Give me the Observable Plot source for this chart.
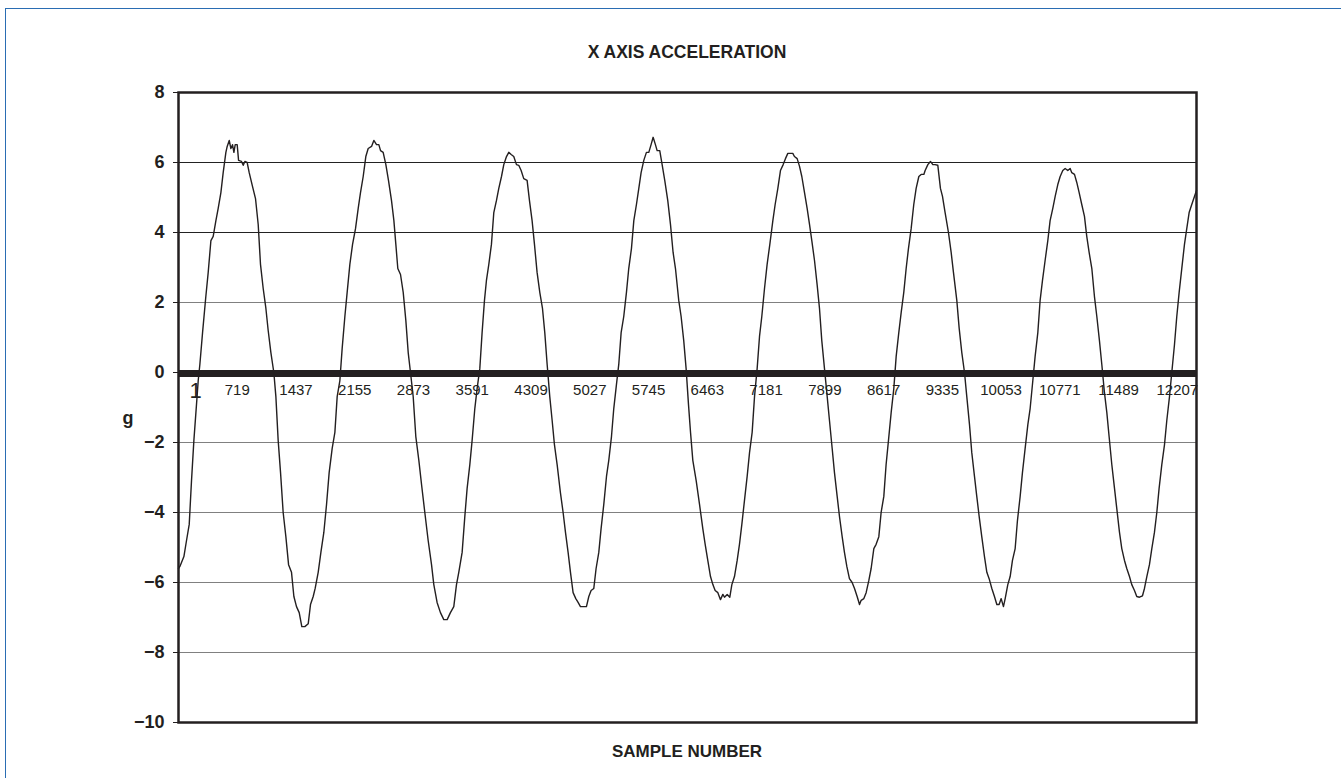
<!DOCTYPE html>
<html>
<head>
<meta charset="utf-8">
<script src="https://cdn.jsdelivr.net/npm/d3@7"></script>
<script src="https://cdn.jsdelivr.net/npm/@observablehq/plot@0.6"></script>
<style>
  body { margin: 0; background: #fff; font-family: "Liberation Sans", Arial, sans-serif; }
  #page { position: relative; width: 1341px; height: 778px; overflow: hidden; background: #fff; }
  #border { position: absolute; left: 5px; top: 8px; width: 1400px; height: 800px; border: 1.5px solid #2a6db3; box-sizing: border-box; }
  #title { position: absolute; top: 42px; left: 178px; width: 1018px; height: 20px; line-height: 20px; text-align: center; font-weight: bold; font-size: 17.5px; color: #231f20; }
  #xlabel { position: absolute; top: 742px; left: 178px; width: 1018px; height: 20px; line-height: 20px; text-align: center; font-weight: bold; font-size: 17px; color: #231f20; }
  #chart { position: absolute; top: 70px; left: 0; }
</style>
</head>
<body>
<div id="page">
  <div id="border"></div>
  <div id="title"></div>
  <div id="chart"></div>
  <div id="xlabel"></div>
</div>
<script>
const chartTitle = "X AXIS ACCELERATION";
const xAxisTitle = "SAMPLE NUMBER";
const yAxisTitle = "g";

// category tick labels shown along the zero line
const xTickLabels = [1, 719, 1437, 2155, 2873, 3591, 4309, 5027, 5745, 6463, 7181, 7899, 8617, 9335, 10053, 10771, 11489, 12207];
const yTicks = [-10, -8, -6, -4, -2, 0, 2, 4, 6, 8];
const gridDark = [6, 4];
const gridLight = [2, -2, -4, -6, -8];
const sampleRange = [1, 12441];

// waveform: [sample number, acceleration in g]
const cycle1 = [[1,-5.6],[18,-5.54],[67,-5.26],[99,-4.8],[132,-4.34],[160,-3.09],[189,-1.94],[221,-0.91],[242,-0.23],[262,0.23],[295,1.14],[335,2.17],[364,2.86],[397,3.77],[425,3.89],[458,4.34],[486,4.69],[519,5.14],[547,5.71],[580,6.29],[596,6.46],[621,6.63],[641,6.4],[661,6.51],[678,6.29],[694,6.51],[718,6.51],[735,6.06],[771,6.03],[792,5.92],[812,6.03],[840,6.0],[865,5.71],[906,5.31],[942,4.97],[975,4.23],[1003,3.09],[1036,2.4],[1069,1.83],[1097,1.2],[1130,0.57],[1166,0],[1191,-0.69],[1219,-1.94],[1248,-2.86],[1280,-4.0],[1313,-4.69],[1346,-5.49],[1382,-5.71],[1411,-6.4],[1443,-6.69],[1476,-6.86],[1508,-7.26],[1545,-7.26],[1586,-7.18],[1614,-6.63],[1647,-6.4],[1671,-6.17],[1708,-5.71],[1741,-5.14],[1777,-4.57],[1810,-3.77],[1842,-2.86],[1879,-2.17],[1912,-1.71],[1940,-0.69],[1973,-0.23],[2001,0.69],[2034,1.6],[2062,2.29],[2095,3.09],[2128,3.66],[2164,4.11],[2197,4.69],[2225,5.14],[2258,5.6],[2290,6.17],[2319,6.4],[2360,6.46],[2388,6.63],[2421,6.51],[2449,6.51],[2470,6.34],[2502,6.29],[2535,5.94],[2567,5.49],[2604,4.91],[2633,4.34],[2657,3.66],[2681,2.97],[2714,2.8],[2747,2.29],[2779,1.49],[2808,0.57],[2836,0],[2869,-0.69],[2901,-1.83],[2938,-2.51],[2971,-3.2],[3011,-4.0],[3052,-4.8],[3093,-5.49]];
const cycle2 = [[3121,-6.06],[3161,-6.57],[3202,-6.86],[3243,-7.06],[3284,-7.06],[3324,-6.86],[3365,-6.69],[3398,-6.06],[3426,-5.71],[3467,-5.14],[3500,-4.11],[3528,-3.31],[3561,-2.63],[3589,-1.94],[3622,-1.03],[3650,-0.46],[3683,0.11],[3711,1.14],[3740,2.06],[3764,2.63],[3793,3.09],[3825,3.66],[3854,4.57],[3886,4.91],[3915,5.26],[3948,5.6],[3976,5.94],[4009,6.17],[4037,6.29],[4066,6.23],[4098,6.17],[4131,5.94],[4159,5.92],[4188,5.77],[4220,5.54],[4261,5.49],[4290,4.91],[4322,4.34],[4351,3.66],[4383,2.86],[4416,2.29],[4449,1.83],[4477,1.14],[4506,0.23],[4538,-0.69],[4567,-1.37],[4595,-2.06],[4628,-2.63],[4668,-3.43],[4701,-4.0],[4730,-4.57],[4762,-5.14],[4791,-5.71],[4823,-6.29],[4856,-6.46],[4884,-6.57],[4913,-6.69],[4953,-6.69],[4986,-6.69],[5015,-6.4],[5043,-6.23],[5076,-6.17],[5104,-5.6],[5137,-5.14],[5165,-4.46],[5198,-3.77],[5231,-2.97],[5259,-2.51],[5292,-1.83],[5320,-1.03],[5353,-0.34],[5381,0.23],[5410,1.14],[5442,1.6],[5475,2.29],[5503,2.97],[5536,3.54],[5565,4.34],[5597,4.8],[5626,5.26],[5654,5.71],[5687,6.06],[5719,6.29],[5748,6.29],[5776,6.51],[5801,6.72],[5829,6.51],[5850,6.34],[5882,6.34],[5911,5.94],[5943,5.49],[5980,4.91],[6013,4.23],[6045,3.43],[6074,2.97],[6114,2.06],[6143,1.6],[6175,0.91],[6204,0.11]];
const cycle3 = [[6233,-0.91],[6258,-1.71],[6286,-2.51],[6327,-3.09],[6368,-3.77],[6408,-4.46],[6437,-4.91],[6469,-5.37],[6502,-5.83],[6531,-6.06],[6559,-6.23],[6592,-6.29],[6624,-6.49],[6653,-6.34],[6673,-6.42],[6706,-6.34],[6738,-6.42],[6763,-6.06],[6795,-5.83],[6828,-5.37],[6856,-4.91],[6885,-4.34],[6917,-3.66],[6950,-2.97],[6979,-2.29],[7011,-1.71],[7040,-0.69],[7072,0.11],[7101,1.03],[7129,1.6],[7162,2.4],[7194,3.09],[7227,3.66],[7264,4.34],[7292,4.8],[7325,5.26],[7357,5.77],[7390,5.94],[7418,6.11],[7447,6.26],[7480,6.26],[7508,6.26],[7528,6.17],[7561,6.11],[7590,5.89],[7618,5.6],[7651,5.14],[7683,4.69],[7712,4.23],[7740,3.77],[7773,3.2],[7805,2.51],[7834,1.83],[7862,0.91],[7895,0.11],[7928,-0.69],[7956,-1.37],[7989,-2.17],[8017,-2.86],[8050,-3.54],[8078,-4.11],[8111,-4.69],[8139,-5.14],[8168,-5.54],[8200,-5.89],[8233,-6.0],[8262,-6.17],[8294,-6.4],[8323,-6.63],[8343,-6.51],[8376,-6.46],[8404,-6.29],[8437,-5.94],[8465,-5.6],[8498,-5.03],[8526,-4.91],[8559,-4.69],[8587,-4.0],[8620,-3.54],[8648,-2.63],[8677,-1.94],[8710,-1.14],[8742,-0.46],[8771,0.46],[8803,1.14],[8832,1.71],[8864,2.29],[8893,2.97],[8921,3.54],[8954,4.11],[8986,4.8],[9015,5.26],[9048,5.6],[9076,5.66],[9109,5.66],[9125,5.77],[9158,5.94],[9190,6.03],[9219,5.94],[9247,5.94],[9280,5.92],[9312,5.26]];
const cycle4 = [[9337,5.03],[9369,4.57],[9410,4.0],[9443,3.43],[9471,2.86],[9512,2.06],[9541,1.26],[9573,0.57],[9606,0],[9634,-0.69],[9667,-1.49],[9695,-2.29],[9728,-2.97],[9756,-3.54],[9785,-4.11],[9817,-4.69],[9850,-5.26],[9879,-5.71],[9907,-5.89],[9940,-6.17],[9972,-6.4],[10001,-6.63],[10029,-6.63],[10054,-6.46],[10082,-6.69],[10103,-6.46],[10135,-6.06],[10164,-5.83],[10192,-5.37],[10225,-5.03],[10253,-4.23],[10286,-3.54],[10314,-2.86],[10347,-2.17],[10380,-1.49],[10408,-1.03],[10441,-0.23],[10469,0.46],[10502,1.14],[10530,2.06],[10559,2.63],[10591,3.2],[10624,3.77],[10652,4.34],[10685,4.69],[10714,5.03],[10746,5.37],[10775,5.6],[10807,5.77],[10836,5.83],[10868,5.77],[10897,5.83],[10917,5.71],[10950,5.66],[10978,5.43],[11007,5.14],[11039,4.8],[11072,4.46],[11100,3.89],[11129,3.43],[11162,2.97],[11194,2.17],[11223,1.6],[11255,0.91],[11284,0.23],[11316,-0.57],[11345,-1.14],[11373,-1.83],[11406,-2.63],[11439,-3.31],[11467,-3.89],[11500,-4.57],[11528,-5.03],[11561,-5.37],[11589,-5.6],[11622,-5.83],[11650,-6.06],[11683,-6.23],[11711,-6.4],[11744,-6.42],[11781,-6.38],[11805,-6.17],[11834,-5.83],[11866,-5.49],[11895,-5.03],[11927,-4.57],[11956,-4.0],[11984,-3.31],[12017,-2.63],[12050,-2.06],[12078,-1.37],[12111,-0.69],[12139,0],[12172,0.8],[12200,1.6],[12229,2.29],[12261,2.97],[12294,3.66],[12322,4.11],[12351,4.57],[12383,4.8],[12416,5.03],[12441,5.2]];

const data = [...cycle1, ...cycle2, ...cycle3, ...cycle4].map(([sample, g]) => ({sample, g}));

document.getElementById("title").textContent = chartTitle;
document.getElementById("xlabel").textContent = xAxisTitle;

const ink = "#231f20";
const chart = Plot.plot({
  width: 1341,
  height: 665,
  marginLeft: 178,
  marginRight: 145,
  marginTop: 22,
  marginBottom: 13,
  style: { fontFamily: "'Liberation Sans', Arial, sans-serif", fontSize: "16px", color: ink, background: "transparent" },
  x: { domain: sampleRange, axis: null },
  y: { domain: [-10, 8], axis: null },
  marks: [
    Plot.ruleY(gridDark, { stroke: "#222", strokeWidth: 1 }),
    Plot.ruleY(gridLight, { stroke: "#808080", strokeWidth: 1 }),
    Plot.ruleY([0], { stroke: ink, strokeWidth: 7, dy: 1 }),
    Plot.line(data, { x: "sample", y: "g", stroke: ink, strokeWidth: 1.4 }),
    Plot.frame({ stroke: ink, strokeWidth: 2.5 }),
    Plot.axisY({ ticks: yTicks, tickSize: 5, tickPadding: 9, fontWeight: "bold", fontSize: 18, label: null, stroke: ink }),
    Plot.text(xTickLabels.slice(1), { x: d => d, y: () => 0, text: d => String(d), dy: 18, fontSize: 15, fill: ink }),
    Plot.text(xTickLabels.slice(0, 1), { x: d => d, y: () => 0, text: d => String(d), dy: 18, dx: 17, fontSize: 22, fill: ink }),
    Plot.text([yAxisTitle], { frameAnchor: "left", dx: -56, dy: 11, fontWeight: "bold", fontSize: 18, fill: ink })
  ]
});
document.getElementById("chart").appendChild(chart);
</script>
</body>
</html>
